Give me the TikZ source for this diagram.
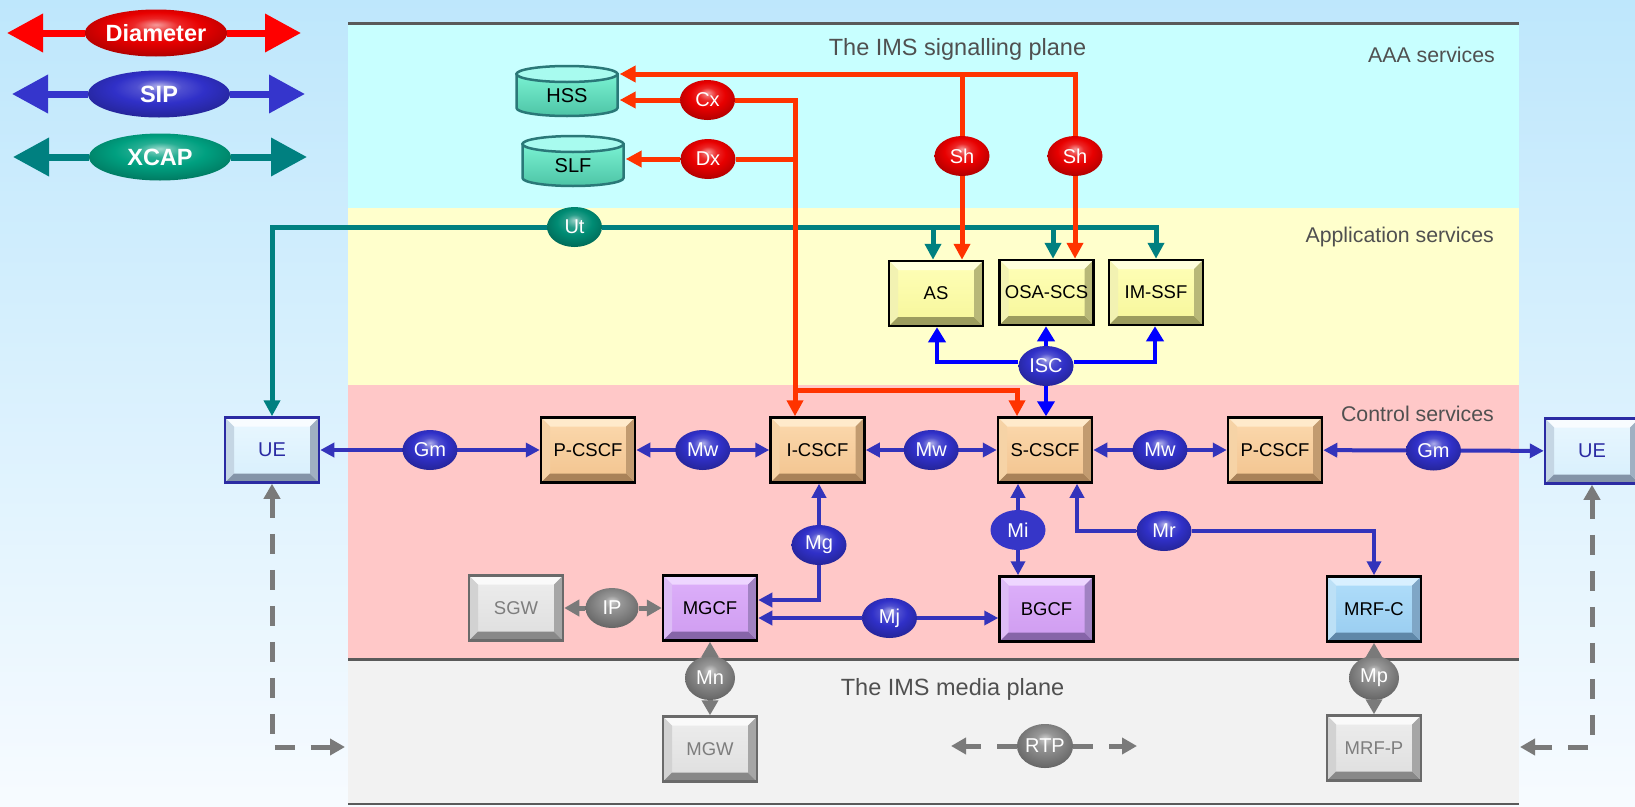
\documentclass[tikz,border=0pt]{standalone}
\usepackage{fontspec}
\setmainfont{Liberation Sans}
\usetikzlibrary{arrows.meta,shapes.geometric}

% background and planes
\definecolor{bgtop}{HTML}{BEE7FC}
\definecolor{bgbot}{HTML}{F7FBFF}
\definecolor{aaa}{HTML}{C8FFFF}
\definecolor{app}{HTML}{FFFFCC}
\definecolor{ctl}{HTML}{FFC8C8}
\definecolor{med}{HTML}{F2F2F2}
\definecolor{rule}{HTML}{5A5A5A}
\definecolor{lbl}{HTML}{505050}
% connector colours
\definecolor{diam}{HTML}{FF3300}
\definecolor{diamleg}{HTML}{FF0000}
\definecolor{sip}{HTML}{3333BB}
\definecolor{sipleg}{HTML}{3535CC}
\definecolor{isc}{HTML}{0000FF}
\definecolor{xcap}{HTML}{008080}
\definecolor{media}{HTML}{7A7A7A}
% interface balls
\definecolor{ballred}{HTML}{E80000}
\definecolor{ballblue}{HTML}{3030C8}
\definecolor{ballteal}{HTML}{008C74}
\definecolor{ballgray}{HTML}{858585}
\definecolor{legteal}{HTML}{00A080}
\definecolor{miflat}{HTML}{3636C8}
% box faces
\definecolor{cscfA}{HTML}{FCD9AE}\definecolor{cscfB}{HTML}{F2C38E}
\definecolor{cscfT}{HTML}{FFEACB}\definecolor{cscfL}{HTML}{F6D3A6}
\definecolor{cscfD}{HTML}{A98259}\definecolor{cscfR}{HTML}{C29B70}
\definecolor{asA}{HTML}{FFFFB8}\definecolor{asB}{HTML}{F6F69A}
\definecolor{asT}{HTML}{FFFFDD}\definecolor{asL}{HTML}{F2F2B2}
\definecolor{asD}{HTML}{9C9C5E}\definecolor{asR}{HTML}{B8B878}
\definecolor{gcfA}{HTML}{DDB0FA}\definecolor{gcfB}{HTML}{CF9CF0}
\definecolor{gcfT}{HTML}{EED6FF}\definecolor{gcfL}{HTML}{DDBCF6}
\definecolor{gcfD}{HTML}{8665A8}\definecolor{gcfR}{HTML}{A182C2}
\definecolor{mrfA}{HTML}{B0DEFA}\definecolor{mrfB}{HTML}{98CCF0}
\definecolor{mrfT}{HTML}{D8F0FF}\definecolor{mrfL}{HTML}{BCE0F6}
\definecolor{mrfD}{HTML}{5F87A8}\definecolor{mrfR}{HTML}{7FA6C6}
\definecolor{ueA}{HTML}{E9F7FF}\definecolor{ueB}{HTML}{D7EFFC}
\definecolor{ueT}{HTML}{F8FCFF}\definecolor{ueL}{HTML}{C5D6E4}
\definecolor{ueD}{HTML}{8494A8}\definecolor{ueR}{HTML}{A0B0C2}
\definecolor{ueline}{HTML}{2B2BA3}
\definecolor{gryA}{HTML}{EDEDED}\definecolor{gryB}{HTML}{DEDEDE}
\definecolor{gryT}{HTML}{FAFAFA}\definecolor{gryL}{HTML}{D2D2D2}
\definecolor{gryD}{HTML}{888888}\definecolor{gryR}{HTML}{A6A6A6}
\definecolor{gryline}{HTML}{6A6A6A}\definecolor{grytext}{HTML}{7D7D7D}
\definecolor{cylline}{HTML}{2A7878}
\definecolor{cylbodyA}{HTML}{7AF2D2}\definecolor{cylbodyB}{HTML}{4DC4A6}
\definecolor{cyltop}{HTML}{A8FBEF}

% glossy fill for the interface ovals, lit from above
\colorlet{glossc}{red}
\pgfdeclareradialshading[glossc]{gloss}{\pgfpoint{0bp}{9bp}}{%
  color(0bp)=(glossc!40!white); color(8bp)=(glossc!85!white);
  color(16bp)=(glossc); color(27bp)=(glossc!80!black);
  color(34bp)=(glossc!55!black); color(50bp)=(glossc!55!black)}

% bevelled face inside a rectangular node: top, left, bottom, right colours
\newcommand\bevelface[4]{%
  \coordinate (bvA) at (path picture bounding box.north west);
  \coordinate (bvB) at (path picture bounding box.north east);
  \coordinate (bvC) at (path picture bounding box.south east);
  \coordinate (bvD) at (path picture bounding box.south west);
  \fill[#1] (bvA) -- (bvB) -- ([shift={(-9pt,-9pt)}]bvB) -- ([shift={(9pt,-9pt)}]bvA) -- cycle;
  \fill[#2] (bvA) -- ([shift={(9pt,-9pt)}]bvA) -- ([shift={(9pt,9pt)}]bvD) -- (bvD) -- cycle;
  \fill[#3] (bvD) -- ([shift={(9pt,9pt)}]bvD) -- ([shift={(-9pt,9pt)}]bvC) -- (bvC) -- cycle;
  \fill[#4] (bvB) -- (bvC) -- ([shift={(-9pt,9pt)}]bvC) -- ([shift={(-9pt,-9pt)}]bvB) -- cycle;
}
% database drum inside a rectangular node
\newcommand\cylface{%
  \coordinate (cylc) at (path picture bounding box.center);
  \path[draw=cylline, line width=2.5pt, top color=cylbodyA, bottom color=cylbodyB]
    ([shift={(-50.5pt,17pt)}]cylc) -- ([shift={(-50.5pt,-17pt)}]cylc)
    arc[start angle=180, end angle=360, x radius=50.5pt, y radius=8pt]
    -- ([shift={(50.5pt,17pt)}]cylc) -- cycle;
  \path[draw=cylline, line width=2.5pt, fill=cyltop]
    ([shift={(0pt,17pt)}]cylc) ellipse [x radius=50.5pt, y radius=8pt];
}

\begin{document}
\begin{tikzpicture}[x=1pt, y=-1pt,
  box/.style={rectangle, minimum width=94pt, minimum height=65pt, inner sep=0pt,
    line width=2.5pt, font=\fontsize{18.5}{22}\selectfont},
  cscfbox/.style={box, draw=black, top color=cscfA, bottom color=cscfB,
    path picture={\bevelface{cscfT}{cscfL}{cscfD}{cscfR}}},
  asbox/.style={box, draw=black, top color=asA, bottom color=asB,
    path picture={\bevelface{asT}{asL}{asD}{asR}}},
  gcfbox/.style={box, draw=black, top color=gcfA, bottom color=gcfB,
    path picture={\bevelface{gcfT}{gcfL}{gcfD}{gcfR}}},
  mrfbox/.style={box, draw=black, top color=mrfA, bottom color=mrfB,
    path picture={\bevelface{mrfT}{mrfL}{mrfD}{mrfR}}},
  uebox/.style={box, draw=ueline, text=ueline, top color=ueA, bottom color=ueB,
    font=\fontsize{20}{24}\selectfont,
    path picture={\bevelface{ueT}{ueL}{ueD}{ueR}}},
  grybox/.style={box, draw=gryline, text=grytext, top color=gryA, bottom color=gryB,
    path picture={\bevelface{gryT}{gryL}{gryD}{gryR}}},
  drum/.style={rectangle, minimum width=105pt, minimum height=56pt, inner sep=0pt,
    text height=23pt, text depth=0pt, font=\fontsize{20}{24}\selectfont,
    path picture={\cylface}},
  glossy/.style={/utils/exec={\colorlet{glossc}{#1}}, shading=gloss},
  iface/.style={ellipse, minimum width=55pt, minimum height=40pt, inner sep=0pt,
    text=white, font=\fontsize{20}{24}\selectfont},
  redball/.style={iface, glossy=ballred},
  blueball/.style={iface, glossy=ballblue},
  tealball/.style={iface, glossy=ballteal},
  grayball/.style={iface, glossy=ballgray, minimum width=50pt, minimum height=44pt},
  legball/.style={ellipse, minimum width=142pt, minimum height=47pt, inner sep=0pt,
    text=white, font=\bfseries\fontsize{23.5}{28}\selectfont},
  seclabel/.style={text=lbl, inner sep=0pt, font=\fontsize{21.3}{25}\selectfont},
  planetitle/.style={text=lbl, inner sep=0pt, font=\fontsize{23.5}{28}\selectfont},
  redc/.style={draw=diam, line width=5pt, >={Triangle[length=16pt,width=16pt]}},
  tealc/.style={draw=xcap, line width=5pt, >={Triangle[length=16pt,width=16pt]}},
  sipc/.style={draw=sip, line width=4pt, >={Triangle[length=14pt,width=14pt]}},
  iscc/.style={draw=isc, line width=4pt, >={Triangle[length=15pt,width=17pt]}},
  grayc/.style={draw=media, line width=5pt, >={Triangle[length=15pt,width=16pt]}},
  graydash/.style={grayc, dash pattern=on 20pt off 16pt},
  legline/.style={line width=7pt, >={Triangle[length=36pt,width=37pt]}}
]
\useasboundingbox (0,0) rectangle (1635,806);
\clip (0,0) rectangle (1635,806);

% backdrop and the four service planes
\shade[top color=bgtop, bottom color=bgbot] (0,0) rectangle (1635,806);
\fill[aaa] (348,23) rectangle (1519,208);
\fill[app] (348,208) rectangle (1519,385);
\fill[ctl] (348,385) rectangle (1519,659);
\fill[med] (348,659) rectangle (1519,804);
\draw[rule, line width=3pt] (348,23) -- (1519,23);
\draw[rule, line width=3pt] (348,659) -- (1519,659);
\draw[rule, line width=2pt] (348,804) -- (1519,804);

\node[planetitle, anchor=base] (ttlsig) at (957.5,55.7) {The IMS signalling plane};
\node[planetitle, anchor=base] (ttlmed) at (952.5,695) {The IMS media plane};
\node[seclabel, anchor=base east] (lblaaa) at (1495,62.3) {AAA services};
\node[seclabel, anchor=base east] (lblapp) at (1494,242.3) {Application services};
\node[seclabel, anchor=base east] (lblctl) at (1494,421) {Control services};

% legend
\node[legball, glossy=ballred] (legdia) at (156,33) {Diameter};
\node[legball, glossy=ballblue] (legsip) at (159,94) {SIP};
\node[legball, glossy=legteal] (legxcap) at (160,157) {XCAP};
\coordinate (legdiaL) at (7,33);   \coordinate (legdiaR) at (301,33);
\coordinate (legsipL) at (12,94);  \coordinate (legsipR) at (305,94);
\coordinate (legxcapL) at (13,157); \coordinate (legxcapR) at (307,157);
\draw[legline, draw=diamleg, ->] (legdia) -- (legdiaL);
\draw[legline, draw=diamleg, ->] (legdia) -- (legdiaR);
\draw[legline, draw=sipleg, ->] (legsip) -- (legsipL);
\draw[legline, draw=sipleg, ->] (legsip) -- (legsipR);
\draw[legline, draw=xcap, ->] (legxcap) -- (legxcapL);
\draw[legline, draw=xcap, ->] (legxcap) -- (legxcapR);

% AAA plane
\node[drum] (HSS) at (567,91) {HSS};
\node[drum] (SLF) at (573,161) {SLF};
\node[redball] (Cx) at (707.5,100) {Cx};
\node[redball] (Dx) at (708,159) {Dx};
\node[redball] (Sh1) at (962,156) {Sh};
\node[redball] (Sh2) at (1075,156) {Sh};

% application plane
\node[asbox] (AS) at (936,293.5) {AS};
\node[asbox] (OSA) at (1046.5,292.5) {OSA-SCS};
\node[asbox] (IMSSF) at (1156,292.5) {IM-SSF};
\node[tealball] (Ut) at (574.5,227) {Ut};
\node[blueball] (ISC) at (1046,366) {ISC};

% control plane
\node[uebox] (UEL) at (272,450) {UE};
\node[cscfbox] (PCL) at (588,450) {P-CSCF};
\node[cscfbox] (ICSCF) at (817.5,450) {I-CSCF};
\node[cscfbox] (SCSCF) at (1045,450) {S-CSCF};
\node[cscfbox] (PCR) at (1275,450) {P-CSCF};
\node[uebox] (UER) at (1592,451) {UE};
\node[grybox] (SGW) at (516,608) {SGW};
\node[gcfbox] (MGCF) at (710,608) {MGCF};
\node[gcfbox] (BGCF) at (1046.5,609) {BGCF};
\node[mrfbox] (MRFC) at (1374,609) {MRF-C};
\node[blueball] (Mg) at (819,545) {Mg};
\node[iface, fill=miflat] (Mi) at (1018,530) {Mi};
\node[blueball] (Mr) at (1164,531) {Mr};
\node[blueball] (Mj) at (889.5,618) {Mj};
\node[grayball, minimum width=53pt, minimum height=40pt] (IP) at (612,608) {IP};

% media plane
\node[grybox] (MGW) at (710,749) {MGW};
\node[grybox] (MRFP) at (1374,748) {MRF-P};
\node[grayball] (Mn) at (710,678) {Mn};
\node[grayball] (Mp) at (1374,678) {Mp};
\node[grayball] (RTP) at (1045,746) {RTP};

% Ut (XCAP)
\coordinate (utL) at (272,227);
\coordinate (utR) at (1156,227);
\coordinate (utA) at (933,227);
\coordinate (utO) at (1053,227);
\draw[tealc, ->] (Ut) -- (utL) -- (UEL.north);
\draw[tealc, ->] (Ut) -- (utR) -- (IMSSF.north);
\draw[tealc, ->] (utA) -- (AS.north -| utA);
\draw[tealc, ->] (utO) -- (OSA.north -| utO);

% Diameter
\coordinate (shTop) at (1075,74);
\coordinate (shMid) at (962,74);
\coordinate (cxj) at (795,100);
\coordinate (dxj) at (795,159);
\coordinate (rj) at (795,390);
\coordinate (rk) at (1017,390);
\draw[redc, ->] (Sh2) -- (shTop) -- (HSS.east |- shTop);
\draw[redc, ->] (Sh2) -- (OSA.north -| Sh2);
\draw[redc] (shMid) -- (Sh1);
\draw[redc, ->] (Sh1) -- (AS.north -| Sh1);
\draw[redc, ->] (Cx) -- (HSS.east |- Cx);
\draw[redc, ->] (Cx) -- (cxj) -- (ICSCF.north -| cxj);
\draw[redc, ->] (Dx) -- (SLF.east |- Dx);
\draw[redc] (Dx) -- (dxj);
\draw[redc, ->] (rj) -- (rk) -- (SCSCF.north -| rk);

% ISC
\coordinate (iscL) at (937,362);
\coordinate (iscR) at (1155,362);
\draw[iscc, ->] (ISC.west |- iscL) -- (iscL) -- (AS.south -| iscL);
\draw[iscc, ->] (ISC.east |- iscR) -- (iscR) -- (IMSSF.south -| iscR);
\draw[iscc, ->] (ISC) -- (OSA.south -| ISC);
\draw[iscc, ->] (ISC) -- (SCSCF.north -| ISC);

% SIP
\draw[sipc, <->] (UEL) -- node[blueball] (GmL) {Gm} (PCL);
\draw[sipc, <->] (PCL) -- node[blueball] (Mw1) {Mw} (ICSCF);
\draw[sipc, <->] (ICSCF) -- node[blueball] (Mw2) {Mw} (SCSCF);
\draw[sipc, <->] (SCSCF) -- node[blueball] (Mw3) {Mw} (PCR);
\draw[sipc, <->] (PCR) -- node[blueball] (GmR) {Gm} (UER);
\coordinate (mgc) at (819,600);
\draw[sipc, ->] (Mg) -- (ICSCF.south -| Mg);
\draw[sipc, ->] (Mg) -- (mgc) -- (MGCF.east |- mgc);
\draw[sipc, ->] (Mj) -- (MGCF.east |- Mj);
\draw[sipc, ->] (Mj) -- (BGCF.west |- Mj);
\draw[sipc, ->] (Mi) -- (SCSCF.south -| Mi);
\draw[sipc, ->] (Mi) -- (BGCF.north -| Mi);
\coordinate (mrL) at (1077,531);
\coordinate (mrR) at (1374,531);
\draw[sipc, ->] (Mr) -- (mrL) -- (SCSCF.south -| mrL);
\draw[sipc, ->] (Mr) -- (mrR) -- (MRFC.north);

% media paths
\draw[grayc, ->] (IP) -- (SGW);
\draw[grayc, ->] (IP) -- (MGCF);
\draw[grayc, ->] (Mn) -- (MGCF);
\draw[grayc, ->] (Mn) -- (MGW);
\draw[grayc, ->] (Mp) -- (MRFC);
\draw[grayc, ->] (Mp) -- (MRFP);
\coordinate (rtpL) at (951,746);
\coordinate (rtpR) at (1137,746);
\draw[graydash, ->] (RTP) -- (rtpL);
\draw[graydash, ->] (RTP) -- (rtpR);
\coordinate (ueLc) at (272,747);
\coordinate (ueLe) at (345,747);
\coordinate (ueRc) at (1592,747);
\coordinate (ueRe) at (1520,747);
\draw[graydash, <->] (UEL) -- (ueLc) -- (ueLe);
\draw[graydash, <->] (UER) -- (ueRc) -- (ueRe);
\end{tikzpicture}
\end{document}
